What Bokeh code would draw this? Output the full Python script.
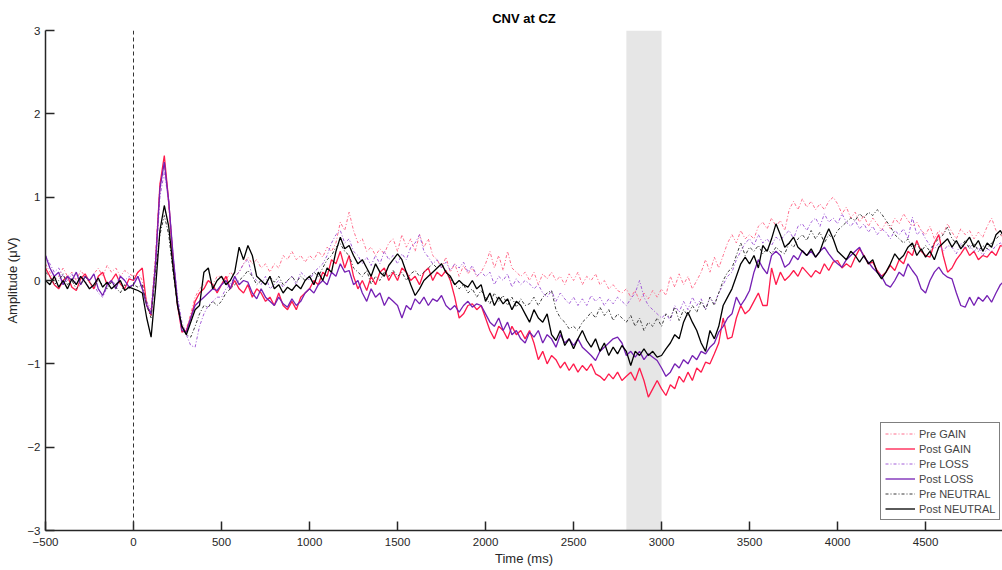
from bokeh.plotting import figure
from bokeh.models import Span, BoxAnnotation, FixedTicker, Legend
from bokeh.embed import file_html
from bokeh.resources import INLINE

# ---- data (µV), sampled every 25 ms from -500 to 4950 ms ----
TIME_MS = list(range(-500, 4951, 25))

X_TICKS = [-500, 0, 500, 1000, 1500, 2000, 2500, 3000, 3500, 4000, 4500]
Y_TICKS = [-3, -2, -1, 0, 1, 2, 3]

WINDOW_START = 2800
WINDOW_END = 3000

pre_gain = [
    0.2, 0.1, 0.0, 0.05, 0.15, 0.05, 0.1, 0.0, 0.12, 0.05, -0.02, 0.08, 0.15, 0.05, 0.18, 0.1, 0.15, 0.05, 0.12, 0.08,
    0.05, 0.1, 0.0, -0.25, -0.35, 0.3, 1.15, 1.4, 0.9, 0.2, -0.3, -0.55, -0.58, -0.4, -0.2, -0.1, -0.05, 0.0, -0.05, 0.05,
    0.05, 0.0, 0.1, 0.05, 0.1, 0.2, 0.28, 0.2, 0.25, 0.15, 0.2, 0.1, 0.2, 0.15, 0.3, 0.25, 0.35, 0.25, 0.3, 0.22,
    0.3, 0.25, 0.35, 0.28, 0.4, 0.35, 0.45, 0.7, 0.6, 0.82, 0.6, 0.45, 0.5, 0.35, 0.4, 0.3, 0.38, 0.32, 0.45, 0.5,
    0.35, 0.55, 0.4, 0.5, 0.35, 0.55, 0.4, 0.5, 0.3, 0.25, 0.15, 0.28, 0.1, 0.2, 0.05, 0.18, 0.08, 0.15, 0.05, 0.1,
    0.2, 0.35, 0.15, 0.3, 0.12, 0.35, 0.15, 0.1, 0.05, 0.1, 0.0, 0.1, -0.05, 0.08, 0.02, 0.1, 0.0, 0.05, -0.05, 0.08,
    0.0, 0.1, -0.05, 0.05, 0.0, 0.08, -0.05, 0.0, -0.1, -0.05, -0.12, -0.15, -0.1, -0.2, -0.12, -0.25, -0.15, -0.22, -0.12, -0.2,
    -0.1, -0.18, 0.05, -0.08, 0.08, -0.05, 0.05, -0.1, 0.0, 0.1, 0.25, 0.1, 0.28, 0.15, 0.3, 0.45, 0.55, 0.45, 0.6, 0.5,
    0.55, 0.5, 0.65, 0.7, 0.62, 0.75, 0.65, 0.72, 0.6, 0.85, 0.95, 0.85, 0.98, 0.88, 0.95, 0.85, 0.92, 0.85, 0.95, 1.0,
    0.92, 0.8, 0.88, 0.75, 0.82, 0.7, 0.78, 0.65, 0.75, 0.68, 0.6, 0.7, 0.62, 0.75, 0.68, 0.8, 0.72, 0.65, 0.7, 0.6,
    0.55, 0.65, 0.5, 0.6, 0.55, 0.68, 0.58, 0.5, 0.62, 0.55, 0.6, 0.5, 0.58, 0.52, 0.65, 0.75, 0.6, 0.55, 0.5,
]

post_gain = [
    0.15, 0.05, -0.05, -0.1, 0.0, 0.05, -0.08, -0.12, 0.02, 0.08, -0.02, -0.1, 0.05, 0.1, -0.05, 0.0, 0.08, -0.04, -0.1, 0.02,
    0.0, 0.1, 0.15, -0.3, -0.42, 0.2, 1.15, 1.5, 0.95, 0.25, -0.3, -0.62, -0.6, -0.45, -0.25, -0.15, -0.1, 0.0, -0.05, -0.15,
    -0.05, 0.05, -0.1, 0.0, -0.1, -0.15, -0.05, -0.2, -0.1, -0.15, -0.25, -0.2, -0.3, -0.15, -0.3, -0.35, -0.25, -0.35, -0.2, -0.15,
    -0.1, 0.0, -0.05, 0.1, 0.05, 0.25, 0.2, 0.35, 0.15, 0.3, 0.05, -0.1, 0.0, -0.12, 0.05, -0.05, 0.1, 0.15, 0.0, 0.1,
    0.0, 0.15, 0.1, 0.0, 0.05, -0.05, 0.1, 0.15, 0.0, 0.1, 0.05, 0.12, 0.0, -0.2, -0.45, -0.4, -0.3, -0.28, -0.35, -0.3,
    -0.45, -0.6, -0.7, -0.55, -0.6, -0.7, -0.55, -0.65, -0.6, -0.7, -0.6, -0.75, -0.95, -0.85, -1.0, -0.9, -0.95, -1.05, -0.98, -1.08,
    -1.0, -1.1, -1.02, -1.08, -1.0, -1.12, -1.15, -1.2, -1.12, -1.18, -1.1, -1.2, -1.15, -1.1, -1.2, -1.05, -1.2, -1.4, -1.3, -1.2,
    -1.3, -1.38, -1.25, -1.3, -1.15, -1.22, -1.1, -1.2, -1.05, -1.1, -0.98, -1.0, -0.88, -0.75, -0.45, -0.7, -0.68, -0.45, -0.3, -0.4,
    -0.35, -0.25, -0.15, -0.3, -0.3, 0.15, -0.05, 0.1, 0.0, 0.05, 0.12, 0.05, 0.16, 0.1, 0.04, 0.12, 0.08, 0.2, 0.12, 0.22,
    0.24, 0.15, 0.2, 0.16, 0.28, 0.38, 0.3, 0.2, 0.22, 0.12, 0.05, 0.1, 0.18, 0.12, 0.25, 0.2, 0.35, 0.3, 0.48, 0.35,
    0.3, 0.28, 0.45, 0.55, 0.3, 0.1, 0.15, 0.25, 0.32, 0.4, 0.3, 0.35, 0.25, 0.3, 0.28, 0.35, 0.3, 0.42, 0.4,
]

pre_loss = [
    0.3, 0.2, 0.1, 0.15, 0.05, 0.0, 0.08, -0.05, 0.05, 0.0, -0.1, -0.05, -0.15, -0.2, -0.08, 0.0, -0.05, 0.05, 0.0, 0.05,
    0.0, 0.05, -0.1, -0.25, -0.4, 0.15, 1.0, 1.3, 0.95, 0.3, -0.2, -0.5, -0.65, -0.78, -0.8, -0.55, -0.4, -0.3, -0.25, -0.2,
    -0.2, -0.1, -0.05, 0.05, 0.1, 0.2, 0.25, 0.05, 0.0, -0.05, 0.05, -0.1, -0.05, 0.0, -0.08, 0.0, 0.05, -0.05, 0.1, 0.05,
    0.0, 0.1, 0.15, 0.2, 0.3, 0.45, 0.55, 0.6, 0.45, 0.5, 0.35, 0.3, 0.2, 0.28, 0.18, 0.3, 0.2, 0.35, 0.25, 0.3,
    0.2, 0.32, 0.25, 0.4, 0.45, 0.55, 0.35, 0.28, 0.2, 0.25, 0.15, 0.22, 0.12, 0.2, 0.15, 0.22, 0.1, 0.18, 0.05, 0.1,
    0.05, 0.1, -0.05, 0.05, 0.0, 0.08, -0.08, 0.02, -0.05, 0.0, -0.04, -0.1, -0.05, -0.15, -0.2, -0.12, -0.25, -0.15, -0.22, -0.28,
    -0.2, -0.3, -0.22, -0.3, -0.18, -0.25, -0.2, -0.3, -0.22, -0.28, -0.2, -0.25, -0.3, -0.22, -0.15, 0.0, -0.2, -0.3, -0.35, -0.4,
    -0.45, -0.4, -0.48, -0.3, -0.38, -0.25, -0.35, -0.2, -0.3, -0.22, -0.35, -0.2, -0.28, -0.15, -0.05, 0.05, 0.1, 0.25, 0.35, 0.45,
    0.5, 0.42, 0.55, 0.45, 0.5, 0.42, 0.52, 0.48, 0.55, 0.6, 0.5, 0.65, 0.68, 0.6, 0.7, 0.75, 0.65, 0.8, 0.7, 0.75,
    0.68, 0.8, 0.7, 0.65, 0.72, 0.62, 0.68, 0.58, 0.65, 0.55, 0.62, 0.58, 0.5, 0.6, 0.55, 0.62, 0.5, 0.76, 0.55, 0.6,
    0.5, 0.42, 0.38, 0.45, 0.35, 0.42, 0.4, 0.32, 0.45, 0.38, 0.42, 0.35, 0.4, 0.3, 0.38, 0.35, 0.42, 0.45, 0.4,
]

post_loss = [
    0.3, 0.15, 0.05, 0.1, -0.05, 0.05, 0.0, 0.1, -0.05, 0.05, 0.0, 0.08, -0.1, -0.18, -0.05, 0.0, -0.1, 0.05, 0.0, -0.08,
    -0.05, 0.05, -0.1, -0.3, -0.4, 0.2, 1.1, 1.42, 0.95, 0.3, -0.25, -0.6, -0.62, -0.45, -0.3, -0.25, -0.2, -0.15, -0.1, -0.12,
    -0.05, 0.0, -0.1, 0.05, -0.05, 0.0, -0.02, -0.15, -0.22, -0.1, -0.2, -0.25, -0.3, -0.2, -0.28, -0.32, -0.22, -0.3, -0.25, -0.15,
    -0.1, -0.15, -0.05, 0.0, -0.05, 0.1, 0.05, 0.2, 0.1, 0.12, -0.05, 0.0, -0.15, -0.25, -0.1, -0.2, -0.15, -0.3, -0.2, -0.25,
    -0.3, -0.45, -0.3, -0.35, -0.22, -0.28, -0.2, -0.3, -0.22, -0.25, -0.18, -0.3, -0.35, -0.3, -0.38, -0.3, -0.25, -0.32, -0.28, -0.3,
    -0.4, -0.5, -0.55, -0.45, -0.6, -0.5, -0.65, -0.6, -0.7, -0.75, -0.62, -0.68, -0.6, -0.75, -0.65, -0.7, -0.8, -0.65, -0.75, -0.7,
    -0.78, -0.7, -0.8, -0.85, -0.9, -0.96, -0.85, -0.8, -0.75, -0.7, -0.68, -0.75, -0.9, -0.85, -0.92, -0.85, -0.95, -0.88, -0.92, -0.96,
    -1.05, -1.15, -1.1, -1.0, -1.05, -0.95, -1.0, -0.9, -0.95, -0.85, -0.88, -0.8, -0.75, -0.62, -0.55, -0.45, -0.4, -0.2, -0.3, -0.22,
    -0.12, 0.1, 0.25, 0.15, 0.08, 0.3, 0.35, 0.3, 0.16, 0.2, 0.3, 0.25, 0.36, 0.3, 0.35, 0.28, 0.35, 0.4, 0.32, 0.25,
    0.2, 0.16, 0.25, 0.3, 0.35, 0.4, 0.28, 0.22, 0.15, 0.1, 0.05, -0.05, -0.08, 0.0, 0.1, 0.05, 0.2, 0.12, 0.05, -0.1,
    -0.15, 0.0, 0.1, 0.16, 0.08, 0.04, 0.02, -0.15, -0.3, -0.32, -0.2, -0.3, -0.2, -0.25, -0.18, -0.26, -0.15, -0.05, 0.0,
]

pre_neutral = [
    0.1, 0.05, -0.05, 0.0, 0.08, -0.05, 0.0, -0.1, -0.05, 0.05, -0.02, -0.08, 0.0, -0.05, -0.1, -0.02, -0.08, -0.15, -0.05, -0.1,
    -0.05, -0.08, -0.05, -0.3, -0.45, 0.1, 0.55, 0.78, 0.55, 0.1, -0.3, -0.55, -0.65, -0.68, -0.55, -0.4, -0.3, -0.32, -0.25, -0.3,
    -0.25, -0.15, -0.1, -0.05, 0.0, 0.05, 0.12, 0.05, -0.05, 0.0, -0.05, 0.05, -0.02, 0.05, -0.05, 0.0, 0.05, -0.02, 0.05, 0.0,
    0.05, 0.1, 0.05, 0.15, 0.25, 0.3, 0.4, 0.44, 0.35, 0.3, 0.15, 0.1, 0.05, 0.12, -0.04, 0.05, 0.0, 0.1, 0.05, 0.12,
    0.05, 0.1, 0.0, 0.08, 0.12, 0.05, 0.1, 0.15, 0.2, 0.15, 0.2, 0.1, 0.02, -0.05, -0.1, -0.05, -0.15, -0.1, -0.2, -0.12,
    -0.2, -0.28, -0.15, -0.25, -0.18, -0.3, -0.2, -0.32, -0.22, -0.3, -0.28, -0.2, -0.3, -0.2, -0.15, -0.12, -0.35, -0.45, -0.5, -0.58,
    -0.55, -0.6, -0.5, -0.45, -0.38, -0.45, -0.32, -0.42, -0.35, -0.48, -0.4, -0.45, -0.5, -0.42, -0.55, -0.45, -0.6, -0.5, -0.55, -0.45,
    -0.55, -0.4, -0.45, -0.32, -0.48, -0.35, -0.42, -0.3, -0.38, -0.25, -0.35, -0.2, -0.3, -0.15, 0.0, 0.1, 0.15, 0.3, 0.45, 0.3,
    0.4, 0.35, 0.42, 0.32, 0.38, 0.32, 0.4, 0.35, 0.32, 0.45, 0.4, 0.5, 0.55, 0.48, 0.6, 0.5, 0.58, 0.45, 0.55, 0.5,
    0.6, 0.65, 0.7, 0.75, 0.72, 0.8, 0.75, 0.82, 0.78, 0.85, 0.8, 0.72, 0.65, 0.55, 0.5, 0.45, 0.5, 0.38, 0.45, 0.35,
    0.42, 0.35, 0.45, 0.5, 0.55, 0.64, 0.5, 0.45, 0.4, 0.48, 0.38, 0.45, 0.35, 0.42, 0.38, 0.45, 0.5, 0.55, 0.5,
]

post_neutral = [
    0.0, -0.05, 0.05, -0.08, 0.0, -0.1, 0.02, -0.05, 0.05, -0.02, -0.1, -0.05, 0.03, -0.08, -0.02, -0.1, -0.05, 0.0, -0.12, -0.08,
    -0.1, -0.12, -0.15, -0.45, -0.68, -0.1, 0.6, 0.9, 0.65, 0.15, -0.3, -0.55, -0.65, -0.5, -0.35, -0.3, 0.1, 0.15, -0.1, 0.0,
    0.05, -0.05, 0.0, 0.1, 0.4, 0.25, 0.42, 0.3, 0.05, 0.0, -0.05, 0.05, -0.1, -0.05, -0.15, -0.08, -0.12, -0.05, -0.1, 0.0,
    0.05, -0.05, 0.1, 0.0, 0.15, 0.1, 0.35, 0.52, 0.38, 0.42, 0.3, 0.2, 0.25, 0.15, 0.05, 0.2, 0.1, 0.05, 0.18, 0.25,
    0.32, 0.25, 0.1, -0.05, -0.18, -0.1, 0.0, 0.05, 0.1, 0.15, 0.2, 0.1, 0.05, -0.05, 0.0, -0.05, -0.08, 0.0, -0.1, -0.05,
    -0.25, -0.15, -0.3, -0.2, -0.28, -0.22, -0.35, -0.25, -0.3, -0.4, -0.5, -0.35, -0.45, -0.5, -0.4, -0.65, -0.72, -0.6, -0.78, -0.7,
    -0.82, -0.7, -0.6, -0.72, -0.8, -0.7, -0.85, -0.75, -0.9, -0.8, -0.88, -0.78, -0.85, -1.02, -0.85, -0.9, -0.82, -0.9, -0.85, -0.92,
    -0.9, -0.82, -0.75, -0.65, -0.7, -0.5, -0.38, -0.5, -0.6, -0.75, -0.85, -0.6, -0.7, -0.55, -0.3, -0.2, -0.1, 0.05, 0.2, 0.28,
    0.2, 0.3, 0.15, 0.42, 0.35, 0.5, 0.68, 0.55, 0.4, 0.45, 0.52, 0.4, 0.35, 0.3, 0.38, 0.28, 0.35, 0.5, 0.62, 0.5,
    0.35, 0.3, 0.25, 0.35, 0.3, 0.22, 0.3, 0.2, 0.25, 0.1, 0.02, 0.1, 0.2, 0.32, 0.25, 0.3, 0.4, 0.45, 0.3, 0.38,
    0.28, 0.35, 0.25, 0.4, 0.45, 0.5, 0.4, 0.48, 0.38, 0.45, 0.52, 0.4, 0.48, 0.35, 0.45, 0.4, 0.55, 0.6, 0.5,
]

SERIES = [
    ("Pre GAIN", pre_gain, "#ff6f8d", "3 2 1 2", 1.0),
    ("Post GAIN", post_gain, "#ff1a4b", "solid", 1.3),
    ("Pre LOSS", pre_loss, "#a35ed8", "3 2 1 2", 1.0),
    ("Post LOSS", post_loss, "#7520b3", "solid", 1.3),
    ("Pre NEUTRAL", pre_neutral, "#3a3a3a", "3 2 1 2", 1.0),
    ("Post NEUTRAL", post_neutral, "#000000", "solid", 1.3),
]

FONT = "Liberation Sans"
X_END = 4937
Y_MIN, Y_MAX = -3, 3

p = figure(
    width=1002, height=570,
    x_range=(-500, X_END), y_range=(Y_MIN, Y_MAX),
    output_backend="svg", toolbar_location=None,
    min_border_left=45, min_border_right=0, min_border_top=30, min_border_bottom=40,
    background_fill_color="white", border_fill_color="white",
)
p.outline_line_color = None
p.xgrid.visible = False
p.ygrid.visible = False

p.title.text = "CNV at CZ"
p.title.align = "center"
p.title.text_font = FONT
p.title.text_font_size = "13px"
p.title.text_font_style = "bold"
p.title.text_color = "#000000"

# analysis window
p.add_layout(BoxAnnotation(left=WINDOW_START, right=WINDOW_END, fill_color="#e6e6e6",
                           fill_alpha=1.0, line_color=None, level="underlay"))
# stimulus onset
p.add_layout(Span(location=0, dimension="height", line_color="#333333",
                  line_dash="4 3", line_width=1))

renderers = []
for name, vals, color, dash, lw in SERIES:
    r = p.line(TIME_MS[:len(vals)], vals, line_color=color, line_dash=dash, line_width=lw)
    renderers.append((name, r))

for ax in (p.xaxis[0], p.yaxis[0]):
    ax.axis_line_color = "#262626"
    ax.axis_line_width = 1.5
    ax.major_tick_line_color = "#262626"
    ax.major_tick_line_width = 1.5
    ax.major_tick_in = 9
    ax.major_tick_out = 0
    ax.minor_tick_line_color = None
    ax.major_label_text_font = FONT
    ax.major_label_text_font_size = "11.5px"
    ax.major_label_text_color = "#262626"
    ax.axis_label_text_font = FONT
    ax.axis_label_text_font_size = "13px"
    ax.axis_label_text_font_style = "normal"
    ax.axis_label_text_color = "#262626"

p.xaxis[0].ticker = FixedTicker(ticks=X_TICKS)
p.yaxis[0].ticker = FixedTicker(ticks=Y_TICKS)
p.xaxis[0].axis_label = "Time (ms)"
p.yaxis[0].axis_label = "Amplitude (μV)"
p.xaxis[0].major_label_standoff = 7
p.xaxis[0].axis_label_standoff = 2
p.yaxis[0].major_label_standoff = 5
p.yaxis[0].axis_label_standoff = 4

legend = Legend(
    items=[(n, [r]) for n, r in renderers],
    location=(835, 10),
    border_line_color="#000000", border_line_width=1.5,
    background_fill_color="white", background_fill_alpha=1.0,
    label_text_font=FONT, label_text_font_size="11px",
    glyph_width=30, glyph_height=13, label_height=13,
    spacing=2, padding=4, label_standoff=4, margin=0,
)
p.add_layout(legend)

open("out.html", "w").write(file_html(p, INLINE))
